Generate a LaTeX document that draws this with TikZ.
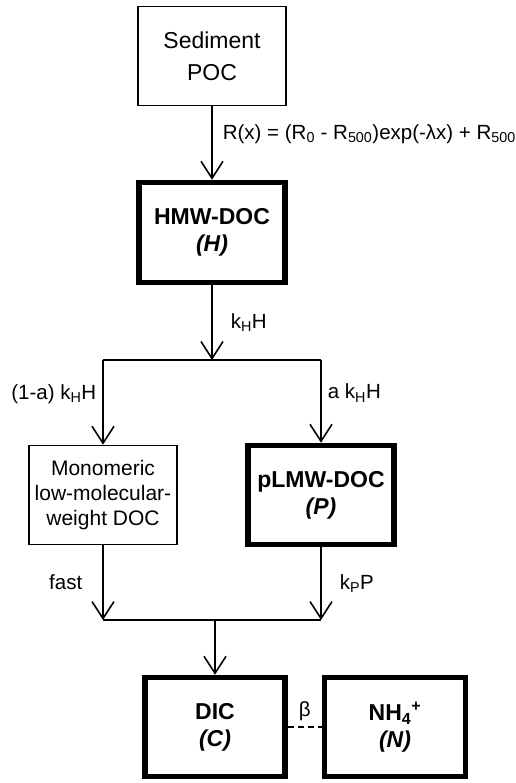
\documentclass[tikz,border=0pt]{standalone}
\usepackage{fontspec}
\setmainfont{Liberation Sans}
\usetikzlibrary{arrows.meta}

\begin{document}
\begin{tikzpicture}[x=1pt, y=-1pt, line width=1.6pt, >={Straight Barb[length=17pt, width=22pt]},
        thinbox/.style={draw, line width=1.6pt, align=center, inner sep=0pt, font=\fontsize{21}{25}\selectfont},
        thickbox/.style={draw, line width=5.5pt, align=center, inner sep=0pt, font=\fontsize{23}{27}\selectfont\bfseries},
        lbl/.style={inner sep=0pt, font=\fontsize{20.5}{24}\selectfont}]
        \def\rowone{360}
        \def\rowtwo{620}

        \useasboundingbox (0,0) rectangle (515,783);

        % boxes
        \node[thinbox, minimum width=148, minimum height=99, font=\fontsize{23}{32}\selectfont] (sed) at (212,56) {Sediment\\POC};
        \node[thickbox, minimum width=146, minimum height=100] (hmw) at (212,232.5) {HMW-DOC\\\textit{(H)}};
        \node[thinbox, minimum width=148, minimum height=99] (mono) at (103,495) {Monomeric\\low-molecular-\\weight DOC};
        \node[thickbox, minimum width=146, minimum height=99] (plmw) at (321,495) {pLMW-DOC\\\textit{(P)}};
        \node[thickbox, minimum width=140, minimum height=99] (dic) at (215,727) {DIC\\\textit{(C)}};
        \node[thickbox, minimum width=141, minimum height=99] (nh) at (395,727) {NH\textsubscript{4}\textsuperscript{+}\\\textit{(N)}};

        % branch points
        \coordinate (lvlone) at (0,\rowone);
        \coordinate (lvltwo) at (0,\rowtwo);
        \coordinate (j1) at (hmw.south |- lvlone);
        \coordinate (j1l) at (mono.north |- lvlone);
        \coordinate (j1r) at (plmw.north |- lvlone);
        \coordinate (j2) at (dic.north |- lvltwo);
        \coordinate (j2l) at (mono.south |- lvltwo);
        \coordinate (j2r) at (plmw.south |- lvltwo);

        \draw[->] (sed) -- (hmw) node[lbl, pos=0.38, anchor=west, xshift=10pt] (eq) {R(x) = (R\textsubscript{0} - R\textsubscript{500})exp(-λx) + R\textsubscript{500}};
        \draw[->] (hmw) -- (j1) node[lbl, pos=0.5, anchor=west, xshift=18pt] (khh) {k\textsubscript{H}H};

        \draw (j1l) -- (j1r);
        \draw[->] (j1l) -- (mono) node[lbl, pos=0.4, anchor=east, xshift=-6pt] (oneminus) {(1-a) k\textsubscript{H}H};
        \draw[->] (j1r) -- (plmw) node[lbl, pos=0.4, anchor=west, xshift=6pt] (akh) {a k\textsubscript{H}H};

        \draw[->] (mono) -- (j2l) node[lbl, pos=0.5, anchor=east, xshift=-20pt] (fast) {fast};
        \draw[->] (plmw) -- (j2r) node[lbl, pos=0.5, anchor=west, xshift=18pt] (kpp) {k\textsubscript{P}P};
        \draw (j2l) -- (j2r);
        \draw[->] (j2) -- (dic);

        \draw[dashed, dash pattern=on 6pt off 4pt] (dic) -- (nh) node[lbl, midway, above=5pt] (beta) {β};
    \end{tikzpicture}
\end{document}
